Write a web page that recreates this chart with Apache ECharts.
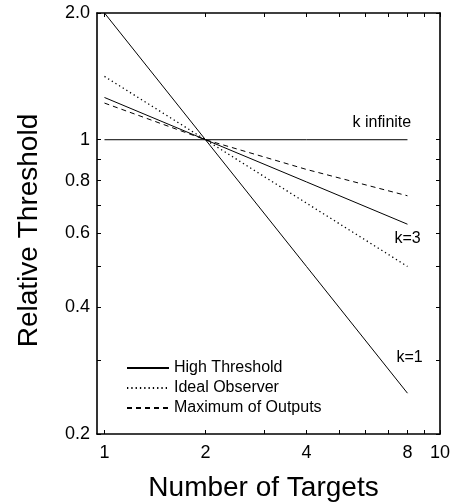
<!DOCTYPE html>
<html>
<head>
<meta charset="utf-8">
<script src="https://cdn.jsdelivr.net/npm/echarts@6/dist/echarts.min.js"></script>
<style>
html,body{margin:0;padding:0;background:#fff;}
#chart{width:461px;height:503px;}
</style>
</head>
<body>
<div id="chart"></div>
<script>
// ---- data ----
var targets = [1, 2, 4, 8];
var highK1 = [2.0, 1.0, 0.5, 0.25];
var highK3 = [1.26, 1.0, 0.794, 0.63];
var highKInf = [1.0, 1.0, 1.0, 1.0];
var idealObserver = [1.414, 1.0, 0.707, 0.5];
var maxOutputs = [1.222, 1.0, 0.85, 0.736];

var xMajorTicks = [1, 2, 4, 8, 10];
var xAllTicks = [1, 2, 3, 4, 5, 6, 7, 8, 9, 10];
var yMajorTicks = [0.2, 0.4, 0.6, 0.8, 1, 2];
var yAllTicks = [0.2, 0.3, 0.4, 0.5, 0.6, 0.7, 0.8, 0.9, 1, 2];

var FONT = '"Liberation Sans", Arial, Helvetica, sans-serif';

function pairs(xs, ys) {
  return xs.map(function (x, i) { return [x, ys[i]]; });
}
function endLbl(text, off) {
  return { show: true, formatter: text, offset: off, distance: 5,
           color: '#000', fontSize: 16, fontFamily: FONT };
}

var chart = echarts.init(document.getElementById('chart'), null, { renderer: 'canvas' });

var axisLineStyle = { color: '#000', width: 1.6 };
function xAxisDef(pos, showLabel) {
  return {
    type: 'log', min: 0.95, max: 10, position: pos,
    axisLine: { show: true, onZero: false, lineStyle: axisLineStyle },
    axisTick: { show: true, inside: true, length: 4, customValues: xAllTicks,
                lineStyle: { color: '#000', width: 1 } },
    axisLabel: { show: showLabel, customValues: xMajorTicks, margin: 10,
                 color: '#000', fontSize: 18, fontFamily: FONT,
                 formatter: function (v) { return String(Math.round(v)); } },
    splitLine: { show: false }, minorTick: { show: false }
  };
}
function yAxisDef(pos, showLabel) {
  return {
    type: 'log', min: 0.2, max: 2, position: pos,
    axisLine: { show: true, onZero: false, lineStyle: axisLineStyle },
    axisTick: { show: true, inside: true, length: 4, customValues: yAllTicks,
                lineStyle: { color: '#000', width: 1 } },
    axisLabel: { show: showLabel, customValues: yMajorTicks, margin: 7,
                 color: '#000', fontSize: 18, fontFamily: FONT,
                 formatter: function (v) {
                   if (Math.abs(v - 2) < 1e-6) return '2.0';
                   if (Math.abs(v - 1) < 1e-6) return '1';
                   return (Math.round(v * 10) / 10).toFixed(1);
                 } },
    splitLine: { show: false }, minorTick: { show: false }
  };
}

var xBottom = xAxisDef('bottom', true);
xBottom.name = 'Number of Targets';
xBottom.nameLocation = 'middle';
xBottom.nameGap = 40;
xBottom.nameTextStyle = { color: '#000', fontSize: 28, fontFamily: FONT, padding: [0, 10, 0, 0] };
var yLeft = yAxisDef('left', true);
yLeft.name = 'Relative Threshold';
yLeft.nameLocation = 'middle';
yLeft.nameGap = 54;
yLeft.nameTextStyle = { color: '#000', fontSize: 28, fontFamily: FONT, padding: [0, 14, 0, 0] };

var option = {
  animation: false,
  backgroundColor: '#fff',
  grid: { left: 97, top: 13, right: 21, bottom: 69, containLabel: false, outerBoundsMode: 'none' },
  xAxis: [xBottom, xAxisDef('top', false)],
  yAxis: [yLeft, yAxisDef('right', false)],
  legend: {
    orient: 'vertical', left: 126, top: 360, padding: 0,
    itemWidth: 42, itemHeight: 14, itemGap: 4,
    itemStyle: { color: 'transparent', borderWidth: 0, opacity: 0 },
    textStyle: { color: '#000', fontSize: 16, lineHeight: 15, fontFamily: FONT },
    data: ['High Threshold', 'Ideal Observer', 'Maximum of Outputs']
  },
  series: [
    { name: 'High Threshold', type: 'line', symbol: 'none', silent: true,
      lineStyle: { color: '#000', width: 1, type: 'solid' },
      itemStyle: { color: '#000' },
      endLabel: endLbl('k=1', [-16, -36]),
      data: pairs(targets, highK1) },
    { name: 'High Threshold', type: 'line', symbol: 'none', silent: true,
      lineStyle: { color: '#000', width: 1, type: 'solid' },
      itemStyle: { color: '#000' },
      endLabel: endLbl('k=3', [-18, 14]),
      data: pairs(targets, highK3) },
    { name: 'High Threshold', type: 'line', symbol: 'none', silent: true,
      lineStyle: { color: '#000', width: 1, type: 'solid' },
      itemStyle: { color: '#000' },
      endLabel: endLbl('k infinite', [-60, -17]),
      data: pairs(targets, highKInf) },
    { name: 'Ideal Observer', type: 'line', symbol: 'none', silent: true,
      lineStyle: { color: '#000', width: 1.3, type: [1.3, 3] },
      itemStyle: { color: '#000' },
      data: pairs(targets, idealObserver) },
    { name: 'Maximum of Outputs', type: 'line', symbol: 'none', silent: true,
      lineStyle: { color: '#000', width: 1, type: [5, 4] },
      itemStyle: { color: '#000' },
      data: pairs(targets, maxOutputs) }
  ]
};
chart.setOption(option);
</script>
</body>
</html>
